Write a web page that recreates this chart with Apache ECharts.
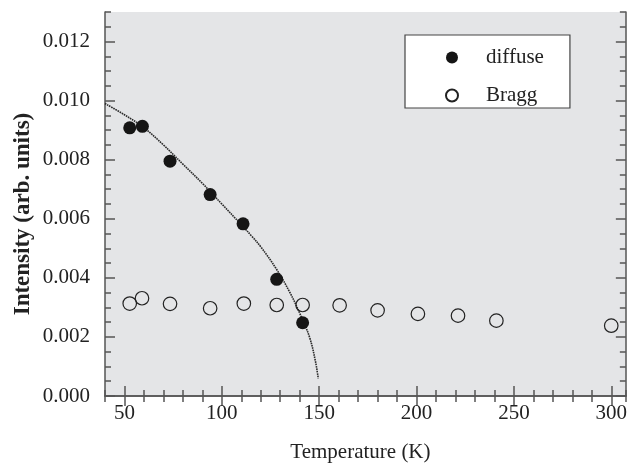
<!DOCTYPE html>
<html>
<head>
<meta charset="utf-8">
<script src="https://cdn.jsdelivr.net/npm/echarts@6/dist/echarts.min.js"></script>
<style>
  html, body { margin: 0; padding: 0; background: #ffffff; }
  #chart { width: 630px; height: 468px; }
</style>
</head>
<body>
<div id="chart"></div>
<script>
// ---- data ----
var diffuseT = [52.7, 59.2, 73.4, 94.0, 110.9, 128.2, 141.5];
var diffuseI = [0.00908, 0.00913, 0.00795, 0.00682, 0.00583, 0.00395, 0.00248];

var braggT = [52.7, 59.0, 73.4, 94.0, 111.3, 128.2, 141.5, 160.5, 180.0, 200.7, 221.3, 241.0, 300.0];
var braggI = [0.00313, 0.00331, 0.00312, 0.00297, 0.00313, 0.00308, 0.00308, 0.00307, 0.00290, 0.00278, 0.00272, 0.00255, 0.00238];

var fitT = [40, 50, 60, 70, 80, 90, 100, 110, 115.5, 120, 128, 135, 140, 145, 148, 149.5];
var fitI = [0.0099, 0.00952, 0.00908, 0.0085, 0.00785, 0.0072, 0.0065, 0.0058, 0.0054, 0.00505, 0.0043, 0.0035, 0.0028, 0.0020, 0.0012, 0.0006];

var xMajorTicks = [50, 100, 150, 200, 250, 300];
var yMajorTicks = [0, 0.002, 0.004, 0.006, 0.008, 0.010, 0.012];

var seriesNames = ['diffuse', 'Bragg'];
var xTitle = 'Temperature (K)';
var yTitle = 'Intensity (arb. units)';

function zip(a, b) { return a.map(function (v, i) { return [v, b[i]]; }); }

var FONT = 'Liberation Serif';
var AX = '#555555';
var TXT = '#222222';
var lineSt = { color: AX, width: 1.5 };
var XMIN = 40, XMAX = 307.5, YMIN = 0, YMAX = 0.013;

var chart = echarts.init(document.getElementById('chart'), null, { renderer: 'canvas' });

function xAxisDef(pos, major, withName) {
  var a = {
    type: 'value', position: pos, min: XMIN, max: XMAX,
    splitLine: { show: false },
    axisLine: { show: !major, lineStyle: lineSt },
    axisTick: { show: true, inside: true, length: major ? 10 : 6, lineStyle: lineSt },
    axisLabel: { show: false }
  };
  if (major) {
    a.axisTick.customValues = xMajorTicks;
    if (pos === 'bottom') {
      a.axisLabel = { show: true, customValues: xMajorTicks, fontFamily: FONT, fontSize: 21, color: TXT, margin: 7 };
    }
  } else {
    a.interval = 10;
  }
  if (withName) {
    a.name = xTitle;
    a.nameLocation = 'middle';
    a.nameGap = 46;
    a.nameTextStyle = { fontFamily: FONT, fontSize: 21, color: TXT, padding: [0, 10, 0, 0] };
  }
  return a;
}

function yAxisDef(pos, major, withName) {
  var a = {
    type: 'value', position: pos, min: YMIN, max: YMAX,
    splitLine: { show: false },
    axisLine: { show: !major, lineStyle: lineSt },
    axisTick: { show: true, inside: true, length: major ? 10 : 6, lineStyle: lineSt },
    axisLabel: { show: false }
  };
  if (major) {
    a.axisTick.customValues = yMajorTicks;
    if (pos === 'left') {
      a.axisLabel = {
        show: true, customValues: yMajorTicks, fontFamily: FONT, fontSize: 21, color: TXT, margin: 15,
        formatter: function (v) { return v.toFixed(3); }
      };
    }
  } else {
    a.interval = 0.0005;
  }
  if (withName) {
    a.name = yTitle;
    a.nameLocation = 'middle';
    a.nameGap = 70;
    a.nameTextStyle = { fontFamily: FONT, fontSize: 23, fontWeight: 'bold', color: TXT, padding: [0, 20, 0, 0] };
  }
  return a;
}

var option = {
  backgroundColor: '#ffffff',
  animation: false,
  grid: {
    left: 105, right: 1, top: 12, bottom: 67,
    show: true, backgroundColor: '#e4e5e7', borderWidth: 0
  },
  legend: {
    data: seriesNames,
    orient: 'vertical',
    left: 405, top: 35,
    backgroundColor: '#ffffff',
    borderColor: '#444444',
    borderWidth: 1.2,
    borderRadius: 0,
    padding: [12, 26, 2, 40],
    itemWidth: 12, itemHeight: 12,
    itemGap: 17,
    textStyle: { fontFamily: FONT, fontSize: 21, color: TXT, padding: [0, 0, 0, 23] }
  },
  xAxis: [
    xAxisDef('bottom', false, true),
    xAxisDef('bottom', true, false),
    xAxisDef('top', false, false),
    xAxisDef('top', true, false)
  ],
  yAxis: [
    yAxisDef('left', false, true),
    yAxisDef('left', true, false),
    yAxisDef('right', false, false),
    yAxisDef('right', true, false)
  ],
  series: [
    {
      name: 'fit', type: 'line', xAxisIndex: 0, yAxisIndex: 0,
      data: zip(fitT, fitI), smooth: 0.4, showSymbol: false, z: 1,
      lineStyle: { color: '#2a2a2a', width: 1.6, type: [1.6, 0.8] }
    },
    {
      name: 'Bragg', type: 'scatter', xAxisIndex: 0, yAxisIndex: 0,
      data: zip(braggT, braggI), symbol: 'circle', symbolSize: 13.5, z: 3,
      itemStyle: { color: 'rgba(0,0,0,0)', borderColor: '#222222', borderWidth: 1.2, opacity: 1 }
    },
    {
      name: 'diffuse', type: 'scatter', xAxisIndex: 0, yAxisIndex: 0,
      data: zip(diffuseT, diffuseI), symbol: 'circle', symbolSize: 13, z: 4,
      itemStyle: { color: '#151515', opacity: 1 }
    }
  ]
};

chart.setOption(option);
</script>
</body>
</html>
